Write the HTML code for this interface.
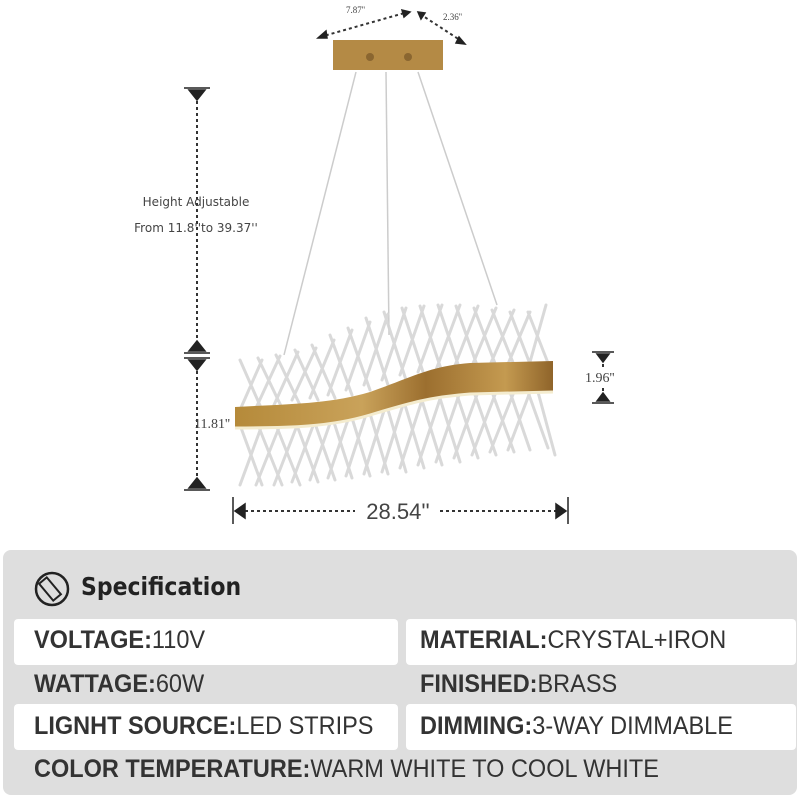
<!DOCTYPE html>
<html><head><meta charset="utf-8"><style>
body{margin:0;width:800px;height:800px;background:#fff;overflow:hidden;position:relative;font-family:"Liberation Sans Narrow","Liberation Sans",sans-serif}
.panel{position:absolute;left:3px;top:550px;width:794px;height:245px;background:#dedede;border-radius:8px}
.box{position:absolute;background:#fff;border-radius:4px;height:46px}
.t{position:absolute;font-size:25px;color:#333;white-space:nowrap;transform:scaleX(0.94);transform-origin:left center}
.t b{font-weight:bold}
</style></head><body>
<svg width="800" height="550" style="position:absolute;left:0;top:0" font-family="Liberation Sans, sans-serif">
<defs>
<linearGradient id="g" x1="0" x2="1"><stop offset="0" stop-color="#b58a3a"/><stop offset="0.4" stop-color="#c9a25a"/><stop offset="0.6" stop-color="#9c6f2f"/><stop offset="0.85" stop-color="#c49a50"/><stop offset="1" stop-color="#8f642a"/></linearGradient>
</defs>
<rect x="333" y="40" width="110" height="30" fill="#b48a45"/>
<circle cx="370" cy="57" r="4" fill="#8a6630"/><circle cx="408" cy="57" r="4" fill="#8a6630"/>
<g stroke="#ccc" stroke-width="1.5">
<line x1="356" y1="72" x2="284" y2="355"/><line x1="386" y1="72" x2="389" y2="335"/><line x1="418" y1="72" x2="497" y2="305"/>
</g>
<g stroke="#d5d5d5" stroke-width="3" stroke-linecap="round" opacity="0.9">
<path d="M240 360 L262 410 M262 360 L240 410 M258 358 L282 408 M280 356 L256 408 M276 355 L300 405 M298 352 L274 405 M295 350 L318 400 M316 348 L292 400 M312 345 L335 398 M334 340 L310 398 M330 335 L352 395 M352 330 L328 395 M348 328 L370 390 M370 322 L346 390 M366 318 L388 385 M388 314 L364 385 M384 312 L406 380 M406 308 L382 380 M402 308 L424 375 M424 306 L400 375 M420 306 L442 372 M442 305 L418 372 M438 305 L460 370 M460 305 L436 370 M456 306 L478 368 M478 306 L454 368 M474 308 L496 366 M496 308 L472 366 M492 310 L514 365 M514 310 L490 365 M510 312 L530 364 M530 312 L508 364 M528 312 L548 363 M546 305 L530 362"/>
<path d="M240 425 L262 485 M262 425 L240 485 M258 425 L282 485 M280 425 L256 485 M276 425 L300 485 M298 423 L274 485 M295 420 L318 482 M316 418 L292 482 M312 415 L335 480 M334 412 L310 480 M330 410 L352 478 M352 408 L328 478 M348 405 L370 476 M370 402 L346 476 M366 400 L388 474 M388 398 L364 474 M384 396 L406 472 M406 395 L382 472 M402 395 L424 468 M424 394 L400 468 M420 394 L442 465 M442 393 L418 465 M438 392 L460 462 M460 392 L436 462 M456 392 L478 458 M478 392 L454 458 M474 392 L496 455 M496 392 L472 455 M492 392 L514 452 M514 392 L490 452 M510 392 L530 450 M530 392 L508 450 M528 392 L548 448 M538 392 L555 455"/>
</g>
<path d="M235 407 C290 404 330 404 370 392 C410 378 430 366 470 363 L553 361 L553 392 L470 394 C430 397 410 403 370 415 C330 427 290 428 235 428 Z" fill="url(#g)"/>
<path d="M235 428 C290 428 330 427 370 415 C410 403 430 397 470 394 L553 392" stroke="#f4eccf" stroke-width="3" fill="none"/>
<g stroke="#333" stroke-width="2" stroke-dasharray="3,3" fill="none">
<line x1="197" y1="95" x2="197" y2="345"/><line x1="197" y1="365" x2="197" y2="485"/>
<line x1="245" y1="511" x2="355" y2="511"/><line x1="440" y1="511" x2="560" y2="511"/>
<line x1="603" y1="358" x2="603" y2="368"/><line x1="603" y1="388" x2="603" y2="398"/>
<line x1="320" y1="37" x2="408" y2="12"/><line x1="420" y1="14" x2="463" y2="42"/>
</g>
<g fill="#222" stroke="#222" stroke-width="1.5">
<line x1="184" y1="88" x2="210" y2="88"/><path d="M189 90 L205 90 L197 100 Z"/>
<line x1="184" y1="353" x2="210" y2="353"/><path d="M189 351 L205 351 L197 341 Z"/>
<line x1="184" y1="358" x2="210" y2="358"/><path d="M189 360 L205 360 L197 370 Z"/>
<line x1="184" y1="490" x2="210" y2="490"/><path d="M189 488 L205 488 L197 478 Z"/>
<line x1="233" y1="497" x2="233" y2="524"/><path d="M235 511 L245 504 L245 518 Z"/>
<line x1="568" y1="497" x2="568" y2="524"/><path d="M566 511 L556 504 L556 518 Z"/>
<line x1="592" y1="352" x2="614" y2="352"/><path d="M597 354 L609 354 L603 362 Z"/>
<line x1="592" y1="403" x2="614" y2="403"/><path d="M597 401 L609 401 L603 393 Z"/>
<path d="M318 38 L326 31 L327 38 Z"/><path d="M410 12 L402 10 L404 17 Z"/>
<path d="M418 12 L425 13 L421 19 Z"/><path d="M465 44 L459 37 L456 43 Z"/>
</g>
<g fill="#444">
<text x="196" y="206" font-size="12" text-anchor="middle" font-family="DejaVu Sans, sans-serif">Height Adjustable</text>
<text x="196" y="232" font-size="12" text-anchor="middle" font-family="DejaVu Sans, sans-serif">From 11.8''to 39.37''</text>
<text x="230" y="428" font-size="14" text-anchor="end" font-family="Liberation Serif, serif">11.81''</text>
<text x="585" y="382" font-size="14" font-family="Liberation Serif, serif">1.96''</text>
<text x="398" y="519" font-size="22" text-anchor="middle">28.54''</text>
<text x="346" y="13" font-size="9" font-family="Liberation Serif, serif">7.87''</text>
<text x="443" y="20" font-size="9" font-family="Liberation Serif, serif">2.36''</text>
</g>
</svg>
<div class="panel"></div>
<svg width="40" height="40" style="position:absolute;left:33px;top:570px"><circle cx="19" cy="19" r="16" fill="none" stroke="#222" stroke-width="2.5"/><rect x="12" y="8" width="10" height="22" transform="rotate(-40 17 19)" fill="none" stroke="#222" stroke-width="2"/></svg>
<div class="t" style="left:81px;top:572px;font-family:'DejaVu Sans',sans-serif;font-weight:bold;font-size:25px;color:#222;transform:scaleX(0.88)">Specification</div>
<div class="box" style="left:14px;top:619px;width:384px"></div>
<div class="box" style="left:406px;top:619px;width:390px"></div>
<div class="box" style="left:14px;top:704px;width:384px"></div>
<div class="box" style="left:406px;top:704px;width:390px"></div>
<div class="t" style="left:34px;top:626px"><b>VOLTAGE:</b>110V</div>
<div class="t" style="left:420px;top:626px"><b>MATERIAL:</b>CRYSTAL+IRON</div>
<div class="t" style="left:34px;top:670px"><b>WATTAGE:</b>60W</div>
<div class="t" style="left:420px;top:670px"><b>FINISHED:</b>BRASS</div>
<div class="t" style="left:34px;top:712px"><b>LIGNHT SOURCE:</b>LED STRIPS</div>
<div class="t" style="left:420px;top:712px"><b>DIMMING:</b>3-WAY DIMMABLE</div>
<div class="t" style="left:34px;top:755px"><b>COLOR TEMPERATURE:</b>WARM WHITE TO COOL WHITE</div>
</body></html>
